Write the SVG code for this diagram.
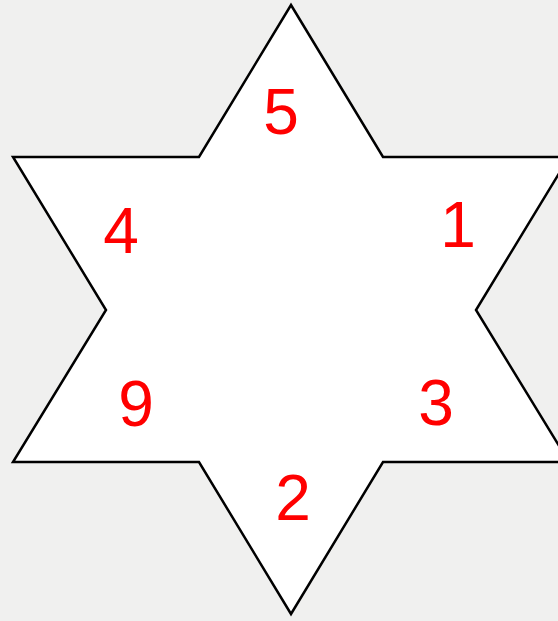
<svg xmlns="http://www.w3.org/2000/svg" width="558" height="621" viewBox="0 0 558 621">
<style>
.num{font-family:"Liberation Sans",Arial,sans-serif;fill:#ff0000;text-anchor:middle;font-size:64px;}
</style>
<rect width="558" height="621" fill="#f0f0ef"/>
<g id="star">
<polygon points="291,5 383,157 569,157 476,310 569,462 383,462 291,614 199,462 13,462 106,310 13,157 199,157" fill="#ffffff" stroke="#000000" stroke-width="2.5" stroke-linejoin="miter"/>
</g>
<g id="n5"><text class="num" x="281" y="134">5</text></g>
<g id="n4"><text class="num" x="121" y="253">4</text></g>
<g id="n1"><text class="num" x="458" y="247">1</text></g>
<g id="n9"><text class="num" x="136" y="426">9</text></g>
<g id="n3"><text class="num" x="436" y="425">3</text></g>
<g id="n2"><text class="num" x="293" y="520">2</text></g>
</svg>
